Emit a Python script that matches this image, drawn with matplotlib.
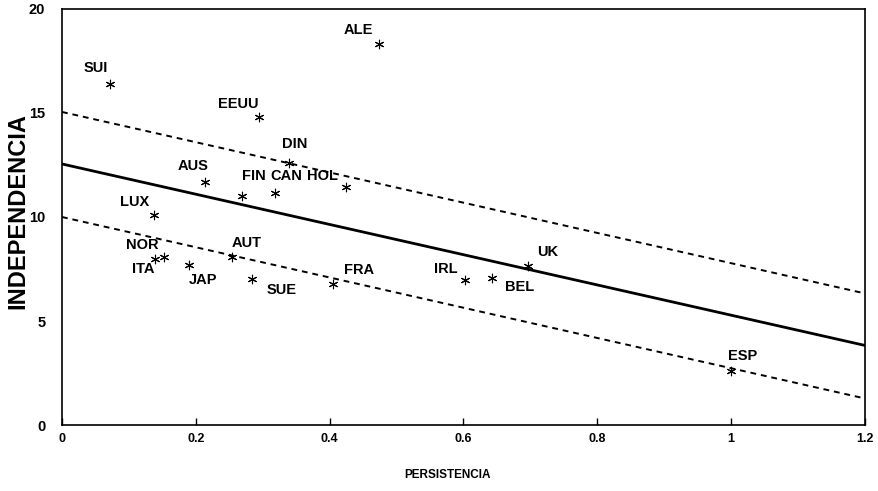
import matplotlib.pyplot as plt
import numpy as np

plt.rcParams['font.family'] = ['Liberation Sans', 'DejaVu Sans']

# Data
countries = ["ALE", "SUI", "EEUU", "DIN", "AUS", "FIN", "CAN", "HOL", "LUX",
             "ITA", "NOR", "JAP", "AUT", "SUE", "FRA", "IRL", "BEL", "UK", "ESP"]
persistencia = [0.474, 0.072, 0.295, 0.339, 0.214, 0.269, 0.318, 0.424, 0.137,
                0.139, 0.152, 0.190, 0.254, 0.284, 0.405, 0.602, 0.643, 0.697, 1.000]
independencia = [18.3, 16.4, 14.8, 12.6, 11.7, 11.0, 11.15, 11.45, 10.1,
                 8.0, 8.1, 7.7, 8.07, 7.0, 6.8, 6.97, 7.07, 7.64, 2.6]

# regression line and band (intercept, slope)
fit_intercept = 12.55
band_upper = 15.05
band_lower = 10.0
fit_slope = -7.27

x_ticks = [0, 0.2, 0.4, 0.6, 0.8, 1, 1.2]
x_ticklabels = ["0", "0.2", "0.4", "0.6", "0.8", "1", "1.2"]
y_ticks = [0, 5, 10, 15, 20]

# label offsets in pixels (dx, dy) from each marker
label_offsets = {
    "ALE": (-21, 14), "SUI": (-14, 16), "EEUU": (-21, 13), "DIN": (6, 19),
    "AUS": (-12, 16), "FIN": (12, 20), "CAN": (12, 17), "HOL": (-23, 11),
    "LUX": (-19, 13), "ITA": (-12, -10), "NOR": (-21, 12), "JAP": (14, -15),
    "AUT": (15, 14), "SUE": (30, -11), "FRA": (26, 14), "IRL": (-19, 11),
    "BEL": (27, -9), "UK": (19, 14), "ESP": (12, 15),
}

fig = plt.figure(figsize=(8.79, 4.91), dpi=100)
ax = fig.add_axes([0.0705, 0.1344, 0.9135, 0.8473])

xx = np.array([0, 1.2])
ax.plot(xx, fit_intercept + fit_slope * xx, color="black", lw=2.0)
ax.plot(xx, band_upper + fit_slope * xx, color="black", lw=1.4, linestyle=(0, (3, 2.5)))
ax.plot(xx, band_lower + fit_slope * xx, color="black", lw=1.4, linestyle=(0, (3, 2.5)))

ax.scatter(persistencia, independencia, marker=(6, 2, 0), s=38,
           color="black", linewidths=0.8, zorder=3)

for name, x, y in zip(countries, persistencia, independencia):
    dx, dy = label_offsets[name]
    ax.annotate(name, (x, y), xytext=(dx, dy), textcoords="offset pixels",
                ha="center", va="center", fontsize=10.5, fontweight="bold")

ax.set_xlim(0, 1.2)
ax.set_ylim(0, 20)
ax.set_xticks(x_ticks)
ax.set_xticklabels(x_ticklabels)
ax.set_yticks(y_ticks)
ax.tick_params(axis="x", direction="in", length=5, width=1, pad=6, labelsize=9)
ax.tick_params(axis="y", length=0, pad=12, labelsize=10.5)
for lab in ax.get_xticklabels() + ax.get_yticklabels():
    lab.set_fontweight("bold")
for s in ax.spines.values():
    s.set_linewidth(1.2)

fig.text(0.509, 0.033, "PERSISTENCIA", ha="center", va="center",
         fontsize=8.5, fontweight="bold")
fig.text(0.02, 0.57, "INDEPENDENCIA", ha="center", va="center",
         rotation=90, fontsize=17, fontweight="bold")

fig.savefig("out.png", dpi=100)
